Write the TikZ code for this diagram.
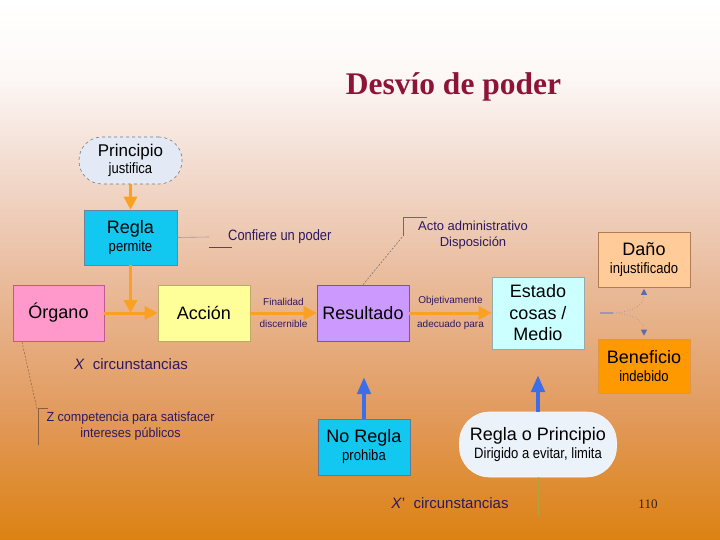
\documentclass[tikz,border=0pt]{standalone}
\usepackage{graphicx}
\usepackage{fontspec}
\setmainfont{Liberation Sans}
\newfontfamily\serifrm{Liberation Serif}
\usetikzlibrary{arrows.meta}
\definecolor{bgA}{RGB}{253,248,246}
\definecolor{bgB}{RGB}{244,224,214}
\definecolor{bgC}{RGB}{234,190,160}
\definecolor{bgD}{RGB}{226,155,95}
\definecolor{bgE}{RGB}{220,130,18}
\definecolor{titlec}{RGB}{140,20,55}
\definecolor{txtc}{RGB}{45,25,95}
\definecolor{orangeA}{RGB}{250,160,35}
\definecolor{blueA}{RGB}{60,110,232}
\definecolor{cyanA}{RGB}{18,200,240}
\definecolor{pinkA}{RGB}{255,153,204}
\definecolor{yellowA}{RGB}{255,255,153}
\definecolor{lilacA}{RGB}{204,153,255}
\definecolor{cyanB}{RGB}{204,255,255}
\definecolor{peachA}{RGB}{255,204,153}
\definecolor{orangeB}{RGB}{255,153,0}
\definecolor{cloudA}{RGB}{227,234,245}
\definecolor{cloudB}{RGB}{236,242,250}
\definecolor{edPrin}{RGB}{120,120,130}
\definecolor{edRegla}{RGB}{110,130,150}
\definecolor{edOrg}{RGB}{190,90,140}
\definecolor{edAcc}{RGB}{190,170,100}
\definecolor{edRes}{RGB}{120,90,140}
\definecolor{edEst}{RGB}{150,170,170}
\definecolor{edDano}{RGB}{175,125,85}
\definecolor{edBen}{RGB}{225,150,70}
\definecolor{edNoR}{RGB}{100,120,150}
\definecolor{edRop}{RGB}{245,248,252}
\definecolor{calloutc}{RGB}{120,100,110}
\definecolor{calloutA}{RGB}{170,150,150}
\definecolor{calloutB}{RGB}{90,70,100}
\definecolor{zline}{RGB}{140,95,60}
\definecolor{oliveA}{RGB}{175,165,60}
\definecolor{pagenum}{RGB}{50,30,30}
\definecolor{splitc}{RGB}{165,150,165}
\definecolor{dotc}{RGB}{185,150,165}
\definecolor{tipc}{RGB}{85,110,175}
\pgfdeclareverticalshading{bgshade}{100bp}{color(0bp)=(bgE); color(25bp)=(bgE); color(37bp)=(bgD); color(50bp)=(bgC); color(61bp)=(bgB); color(68bp)=(bgA); color(75bp)=(white); color(100bp)=(white)}
\newcommand\BigTx{\fontsize{18}{20}\selectfont}
\newcommand\SmTx[1]{\scalebox{0.87}[1]{\fontsize{15}{17}\selectfont #1}}
\begin{document}
\begin{tikzpicture}[x=1pt,y=-1pt,
  boxnode/.style={draw=#1, line width=0.6pt, inner sep=0pt, align=center, font=\BigTx, text=black},
  oarrow/.style={draw=orangeA, line width=3pt, -{Triangle[length=13pt,width=13pt]}},
  barrow/.style={draw=blueA, line width=4.5pt, -{Triangle[length=17pt,width=13pt]}},
  callout/.style={draw=calloutc, line width=0.5pt},
  lbl/.style={text=txtc, inner sep=0pt},
  darr/.style={draw=dotc, line width=0.8pt, dotted,
     -{Triangle[length=6pt,width=6pt,color=tipc]}}
]
\useasboundingbox (0,0) rectangle (720,540);
\fill[shading=bgshade] (0,0) rectangle (720,540);

% title
\node[anchor=base, inner sep=0pt, text=titlec, font=\serifrm\bfseries\fontsize{31.5}{33}\selectfont] (title) at (453.5,95) {Desvío de poder};

% boxes
\node[boxnode=edPrin, dashed, fill=cloudA, rounded corners=23pt, minimum width=103pt, minimum height=47pt, font=\fontsize{17}{19}\selectfont] (prin) at (130.5,160.5) {Principio\\[-2pt]\SmTx{justifica}};
\node[boxnode=edRegla, fill=cyanA, minimum width=93pt, minimum height=55pt] (regla) at (130.5,237.5) {Regla\\[-2pt]\SmTx{permite}};
\node[boxnode=edOrg, fill=pinkA, minimum width=91pt, minimum height=56pt] (organo) at (58.5,313) {Órgano};
\node[boxnode=edAcc, fill=yellowA, minimum width=92pt, minimum height=56pt] (accion) at (204,313) {Acción};
\node[boxnode=edRes, fill=lilacA, minimum width=92pt, minimum height=56pt] (result) at (363,313) {Resultado};
\node[boxnode=edEst, fill=cyanB, minimum width=92pt, minimum height=72pt, font=\fontsize{18}{21.5}\selectfont] (estado) at (538,313) {Estado\\cosas /\\Medio};
\node[boxnode=edDano, fill=peachA, minimum width=92pt, minimum height=55pt] (dano) at (644,259.5) {Daño\\[-2pt]\SmTx{injustificado}};
\node[boxnode=edBen, fill=orangeB, minimum width=92pt, minimum height=54pt] (benef) at (644,366) {Beneficio\\[-2pt]\SmTx{indebido}};
\node[boxnode=edNoR, fill=cyanA, minimum width=92pt, minimum height=56pt] (noregla) at (364,447) {No Regla\\[-2pt]\SmTx{prohiba}};
\node[boxnode=edRop, fill=cloudB, rounded corners=30pt, minimum width=157pt, minimum height=65pt] (rop) at (538,444.5) {Regla o Principio\\[-2pt]\SmTx{Dirigido a evitar, limita}};

% orange arrows
\coordinate (junc) at (130.5,313);
\draw[oarrow] (prin) -- (regla);
\draw[oarrow] (regla) -- (junc);
\draw[oarrow] (organo) -- (accion);
\draw[oarrow] (accion) -- (result)
  node[pos=0.5, lbl, above=6pt, font=\fontsize{10}{12}\selectfont] (fin) {Finalidad}
  node[pos=0.5, lbl, below=6pt, font=\fontsize{10}{12}\selectfont] (disc) {discernible};
\draw[oarrow] (result) -- (estado)
  node[pos=0.5, lbl, above=6pt, font=\fontsize{10}{12}\selectfont] (obj) {Objetivamente}
  node[pos=0.5, lbl, below=6pt, font=\fontsize{10}{12}\selectfont] (adec) {adecuado para};

% callout: Confiere un poder
\node[lbl, anchor=west] (conf) at (228,237) {\scalebox{0.86}[1]{\fontsize{15}{17}\selectfont Confiere un poder}};
\coordinate (cf1) at (209,237);
\coordinate (cf2) at (209,247);
\coordinate (cf3) at (232,247);
\draw[draw=calloutA, line width=0.6pt] (regla.east) -- (cf1);
\draw[draw=calloutB, line width=0.6pt] (cf2) -- (cf3);

% callout: Acto administrativo
\node[lbl, align=center, font=\fontsize{13}{16}\selectfont] (acto) at (473,235) {Acto administrativo\\Disposición};
\coordinate (ac1) at (403,236);
\coordinate (ac2) at (403,217);
\coordinate (ac3) at (427,217);
\draw[callout, dash pattern=on 2pt off 1.5pt] (result.north) -- (ac1);
\draw[callout] (ac1) -- (ac2) -- (ac3);

% X circunstancias
\node[lbl, font=\fontsize{15}{17}\selectfont] (xcirc) at (131,364) {\textit{X}\ \ circunstancias};

% Z callout
\coordinate (z0) at (22,342);
\coordinate (z1) at (37,409);
\coordinate (z2) at (38,408);
\coordinate (z3) at (38,445);
\coordinate (z4) at (48,408);
\draw[draw=zline, line width=0.5pt, dash pattern=on 2pt off 1.5pt] (z0) -- (z1);
\draw[draw=zline, line width=0.5pt] (z3) -- (z2) -- (z4);
\node[lbl, align=center, font=\fontsize{13.2}{16}\selectfont] (zcomp) at (130.5,426) {\scalebox{0.95}[1]{Z competencia para satisfacer}\\\scalebox{0.95}[1]{intereses públicos}};

% blue arrows
\coordinate (nrtip) at (364,377);
\coordinate (roptip) at (538,375);
\draw[barrow] (noregla.north) -- (nrtip);
\draw[barrow] (rop.north) -- (roptip);
\coordinate (ropend) at (538,516);
\draw[draw=oliveA, line width=1pt] (rop.south) -- (ropend);

% X' circunstancias
\node[lbl, font=\fontsize{15}{17}\selectfont] (xpcirc) at (450,503) {\textit{X}'\ \ circunstancias};
\node[inner sep=0pt, text=pagenum, font=\serifrm\fontsize{13}{15}\selectfont] (pnum) at (648,504) {110};

% Daño / Beneficio split
\coordinate (sp0) at (600,313);
\coordinate (sp1) at (613,313);
\draw[draw=splitc, line width=1.6pt] (sp0) -- (sp1);
\draw[darr, shorten >=1.5pt] (sp1) .. controls (632,312) and (644,306) .. (dano.south);
\draw[darr, shorten >=3pt] (sp1) .. controls (632,314) and (644,320) .. (benef.north);
\end{tikzpicture}
\end{document}
